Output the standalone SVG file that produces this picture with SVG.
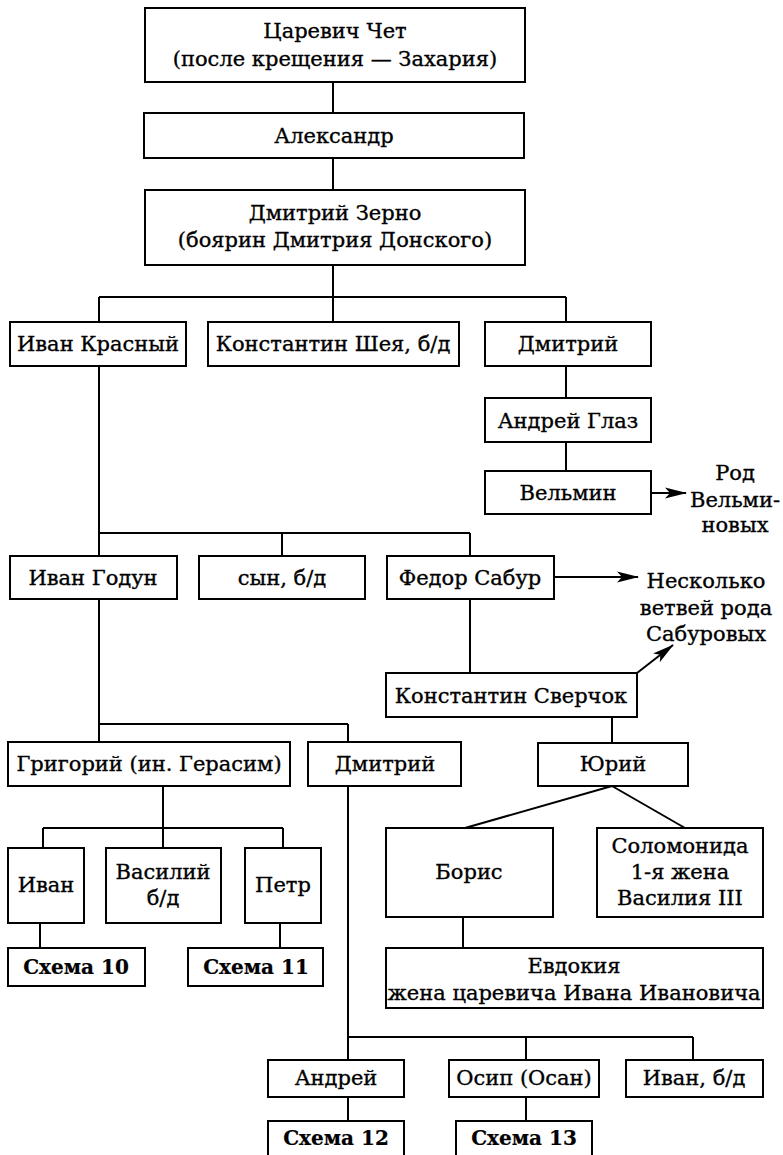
<svg xmlns="http://www.w3.org/2000/svg" width="783" height="1155" viewBox="0 0 783 1155">
<style>
.b{fill:#fff;stroke:#000;stroke-width:2}
.t{font-family:"DejaVu Serif","Liberation Serif",serif;font-size:21px;fill:#000;stroke:#000;stroke-width:0.35;text-anchor:middle}
.bold{font-weight:bold;font-size:20px;stroke-width:0.2}
.c{fill:none;stroke:#000;stroke-width:2}
</style>
<defs>
<marker id="ah" markerUnits="userSpaceOnUse" markerWidth="22" markerHeight="12" viewBox="0 0 22 12" refX="21" refY="6" orient="auto">
<path d="M0,0.5 L22,6 L0,11.5 L5,6 Z" fill="#000"/>
</marker>
</defs>
<rect width="783" height="1155" fill="#fff"/>
<g id="connectors">
<path class="c" d="M333,82V113M333,158V190M333,265V297M99,297H566M99,297V322M333,297V322M566,297V322"/>
<path class="c" d="M566,366V398M566,442V471"/>
<path class="c" d="M99,366V533M99,533H470M99,533V556M282,533V556M470,533V556"/>
<path class="c" d="M470,599V673M612,717V743"/>
<path class="c" d="M99,599V724M99,724H348M99,724V742M348,724V742"/>
<path class="c" d="M163,786V828M43,828H283M43,828V848M163,828V848M283,828V848"/>
<path class="c" d="M40,923V948M280,923V948"/>
<path class="c" d="M612,786L465,828M612,786L685,828"/>
<path class="c" d="M463,917V948"/>
<path class="c" d="M348,786V1037M348,1037H693M348,1037V1060M526,1037V1060M693,1037V1060"/>
<path class="c" d="M348,1097V1121M526,1097V1121"/>
<path class="c" d="M651,493H686" marker-end="url(#ah)"/>
<path class="c" d="M554,577H638" marker-end="url(#ah)"/>
<path class="c" d="M637,673L673,645" marker-end="url(#ah)"/>
</g>
<g id="n1"><rect class="b" x="145" y="8" width="380" height="74"/><text class="t" x="335" y="38">Царевич Чет</text><text class="t" x="335" y="66">(после крещения — Захария)</text></g>
<g id="n2"><rect class="b" x="144" y="113" width="380" height="45"/><text class="t" x="334" y="143">Александр</text></g>
<g id="n3"><rect class="b" x="145" y="190" width="380" height="75"/><text class="t" x="335" y="220">Дмитрий Зерно</text><text class="t" x="335" y="247">(боярин Дмитрия Донского)</text></g>
<g id="n4"><rect class="b" x="10" y="322" width="176" height="44"/><text class="t" x="98" y="351">Иван Красный</text></g>
<g id="n5"><rect class="b" x="208" y="322" width="251" height="44"/><text class="t" x="333" y="351">Константин Шея, б/д</text></g>
<g id="n6"><rect class="b" x="485" y="322" width="166" height="44"/><text class="t" x="568" y="351">Дмитрий</text></g>
<g id="n7"><rect class="b" x="485" y="398" width="166" height="44"/><text class="t" x="568" y="428">Андрей Глаз</text></g>
<g id="n8"><rect class="b" x="485" y="471" width="166" height="43"/><text class="t" x="568" y="500">Вельмин</text></g>
<g id="n9"><text class="t" x="735" y="480">Род</text><text class="t" x="735" y="507">Вельми-</text><text class="t" x="735" y="532">новых</text></g>
<g id="n10"><rect class="b" x="10" y="556" width="167" height="43"/><text class="t" x="93" y="585">Иван Годун</text></g>
<g id="n11"><rect class="b" x="199" y="556" width="166" height="43"/><text class="t" x="282" y="585">сын, б/д</text></g>
<g id="n12"><rect class="b" x="387" y="556" width="167" height="43"/><text class="t" x="470" y="585">Федор Сабур</text></g>
<g id="n13"><text class="t" x="706" y="588">Несколько</text><text class="t" x="706" y="615">ветвей рода</text><text class="t" x="706" y="641">Сабуровых</text></g>
<g id="n14"><rect class="b" x="386" y="673" width="251" height="44"/><text class="t" x="511" y="703">Константин Сверчок</text></g>
<g id="n15"><rect class="b" x="8" y="742" width="282" height="44"/><text class="t" x="149" y="771">Григорий (ин. Герасим)</text></g>
<g id="n16"><rect class="b" x="308" y="742" width="153" height="44"/><text class="t" x="385" y="771">Дмитрий</text></g>
<g id="n17"><rect class="b" x="538" y="743" width="150" height="43"/><text class="t" x="613" y="771">Юрий</text></g>
<g id="n18"><rect class="b" x="8" y="848" width="76" height="75"/><text class="t" x="46" y="892">Иван</text></g>
<g id="n19"><rect class="b" x="106" y="848" width="115" height="75"/><text class="t" x="163" y="879">Василий</text><text class="t" x="163" y="905">б/д</text></g>
<g id="n20"><rect class="b" x="245" y="848" width="76" height="75"/><text class="t" x="283" y="892">Петр</text></g>
<g id="n21"><rect class="b" x="386" y="828" width="167" height="89"/><text class="t" x="469" y="879">Борис</text></g>
<g id="n22"><rect class="b" x="597" y="828" width="166" height="89"/><text class="t" x="680" y="853">Соломонида</text><text class="t" x="680" y="879">1-я жена</text><text class="t" x="680" y="905">Василия III</text></g>
<g id="n23"><rect class="b" x="8" y="948" width="137" height="38"/><text class="t bold" x="76" y="974">Схема 10</text></g>
<g id="n24"><rect class="b" x="188" y="948" width="135" height="38"/><text class="t bold" x="256" y="974">Схема 11</text></g>
<g id="n25"><rect class="b" x="386" y="948" width="377" height="60"/><text class="t" x="574" y="973">Евдокия</text><text class="t" x="574" y="1000">жена царевича Ивана Ивановича</text></g>
<g id="n26"><rect class="b" x="268" y="1060" width="136" height="37"/><text class="t" x="336" y="1085">Андрей</text></g>
<g id="n27"><rect class="b" x="449" y="1060" width="150" height="37"/><text class="t" x="524" y="1085">Осип (Осан)</text></g>
<g id="n28"><rect class="b" x="626" y="1060" width="137" height="37"/><text class="t" x="694" y="1085">Иван, б/д</text></g>
<g id="n29"><rect class="b" x="268" y="1121" width="136" height="42"/><text class="t bold" x="336" y="1145">Схема 12</text></g>
<g id="n30"><rect class="b" x="456" y="1121" width="136" height="42"/><text class="t bold" x="524" y="1145">Схема 13</text></g>
</svg>
